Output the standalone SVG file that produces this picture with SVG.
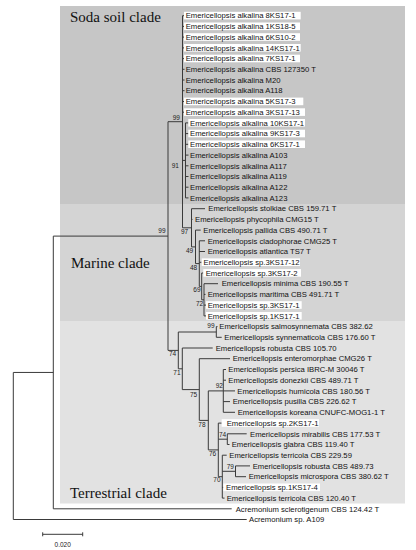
<svg xmlns="http://www.w3.org/2000/svg" width="416" height="550" viewBox="0 0 416 550">
<style>
.br{stroke:#3a3a3a;stroke-width:1;fill:none}
.lf{font-family:"Liberation Sans",Arial,sans-serif;font-size:7.7px;fill:#111}
.bs{font-family:"Liberation Sans",Arial,sans-serif;font-size:6.5px;fill:#222}
.cl{font-family:"Liberation Serif","Times New Roman",serif;font-size:15px;fill:#111}
.hb{fill:#fff}
</style>
<rect width="416" height="550" fill="#fff"/>
<g id="clade-soda"><rect x="60" y="6" width="345" height="198" fill="#c6c6c6"/><text class="cl" x="70" y="21.7">Soda soil clade</text></g>
<g id="clade-marine"><rect x="60" y="204" width="345" height="117" fill="#d4d4d4"/><text class="cl" x="71" y="268.3">Marine clade</text></g>
<g id="clade-terrestrial"><rect x="60" y="321" width="345" height="182.5" fill="#e2e2e2"/><text class="cl" x="70" y="497.7">Terrestrial clade</text></g>

<g id="connectors" class="br">
<!-- root -->
<path d="M13.3,372.45V519.5H246.7M13.3,372.45H53.3"/>
<path d="M53.3,236.1V508.8H231.7M53.3,236.1H168"/>
<path d="M168,121.7V350.4"/>
<!-- soda+marine node -->
<path d="M168,121.7H182.5M182.5,15.7V227.8"/>
<path d="M182.5,15.7h2M182.5,26.4h2M182.5,37.1h2M182.5,47.9h2M182.5,58.6h2M182.5,69.3h2M182.5,80h2M182.5,90.7h2M182.5,101.5h2M182.5,112.2h2"/>
<path d="M182.5,160.4H185.5M185.5,122.9V197.9"/>
<path d="M185.5,122.9h3M185.5,133.6h3M185.5,144.3h3M185.5,155.1h3M185.5,165.8h3M185.5,176.5h3M185.5,187.2h3M185.5,197.9h3"/>
<!-- marine -->
<path d="M182.5,227.8H191.5M191.5,208.7V246.9M191.5,208.7H205M191.5,219.4H192.5"/>
<path d="M191.5,246.9H195.5M195.5,230.1V263.6M195.5,230.1H200.7"/>
<path d="M195.5,263.6H199.3M199.3,240.8V286.4M199.3,240.8H205M199.3,251.5H205M199.3,262.3H201.5"/>
<path d="M199.3,286.4H201.7M201.7,273V299.8M201.7,273H203.3"/>
<path d="M201.7,299.8H204M204,283.7V315.9M204,283.7H218M204,294.4H205.5M204,305.1H206M204,315.9H206"/>
<!-- terrestrial -->
<path d="M168,350.4H178.3M178.3,332V368.8"/>
<path d="M178.3,332H216.3M216.3,326.6V337.3M216.3,326.6H217.5M216.3,337.3H221.7"/>
<path d="M178.3,368.8H182.3M182.3,348V389.6M182.3,348H212.7"/>
<path d="M182.3,389.6H199.3M199.3,358.7V420.4M199.3,358.7H230"/>
<path d="M199.3,420.4H208.3M208.3,390.9V449.9"/>
<path d="M208.3,390.9H223.3M223.3,369.5V412.3M223.3,369.5H226M223.3,380.2H226M223.3,390.9H235M223.3,401.6H230M223.3,412.3H235"/>
<path d="M208.3,449.9H218.3M218.3,423.1V476.7M218.3,423.1H221.7"/>
<path d="M218.3,439.2H227.3M227.3,433.8V444.5M227.3,433.8H246.7M227.3,444.5H229.5"/>
<path d="M218.3,476.7H222.3M222.3,455.2V498.1M222.3,455.2H226.7M222.3,487.4H223.5M222.3,498.1H224.5"/>
<path d="M222.3,471.3H235.5M235.5,465.9V476.7M235.5,465.9H250M235.5,476.7H246"/>
<!-- scale bar -->
<path d="M42.7,534.3H82.7M42.7,532.3V536.3M82.7,532.3V536.3"/>
</g>

<g id="support" class="bs">
<text x="158.3" y="233.3">99</text>
<text x="172.7" y="119.5">99</text>
<text x="171.7" y="167.7">91</text>
<text x="181" y="234">97</text>
<text x="186" y="253.3">49</text>
<text x="190" y="270">48</text>
<text x="193.3" y="292.3">69</text>
<text x="196" y="306.3">72</text>
<text x="169" y="356">74</text>
<text x="207.3" y="328.3">99</text>
<text x="173.3" y="375">71</text>
<text x="190" y="396.7">75</text>
<text x="215.7" y="388.3">92</text>
<text x="198.3" y="426.7">78</text>
<text x="219" y="437.3">74</text>
<text x="209" y="456">76</text>
<text x="226.7" y="469.3">79</text>
<text x="213.3" y="482.3">70</text>
</g>

<g id="leaves" class="lf">
<g id="s1"><rect class="hb" x="184" y="11.8" width="116.7" height="7.6"/><text x="185.7" y="18.4">Emericellopsis alkalina 8KS17-1</text></g>
<g id="s2"><rect class="hb" x="184" y="22.5" width="116" height="7.6"/><text x="185.7" y="29.1">Emericellopsis alkalina 1KS18-5</text></g>
<g id="s3"><rect class="hb" x="184" y="33.2" width="116" height="7.6"/><text x="185.7" y="39.8">Emericellopsis alkalina 6KS10-2</text></g>
<g id="s4"><rect class="hb" x="184" y="44" width="116.7" height="7.6"/><text x="185.7" y="50.6">Emericellopsis alkalina 14KS17-1</text></g>
<g id="s5"><rect class="hb" x="184" y="54.7" width="116" height="7.6"/><text x="185.7" y="61.3">Emericellopsis alkalina 7KS17-1</text></g>
<g id="s6"><text x="185.7" y="72">Emericellopsis alkalina CBS 127350 T</text></g>
<g id="s7"><text x="185.7" y="82.7">Emericellopsis alkalina M20</text></g>
<g id="s8"><text x="185.7" y="93.4">Emericellopsis alkalina A118</text></g>
<g id="s9"><rect class="hb" x="184" y="97.6" width="119.3" height="7.6"/><text x="185.7" y="104.2">Emericellopsis alkalina 5KS17-3</text></g>
<g id="s10"><rect class="hb" x="184" y="108.3" width="121" height="7.6"/><text x="185.7" y="114.9">Emericellopsis alkalina 3KS17-13</text></g>
<g id="s11"><rect class="hb" x="188.3" y="119" width="116.7" height="7.6"/><text x="190" y="125.6">Emericellopsis alkalina 10KS17-1</text></g>
<g id="s12"><rect class="hb" x="188.3" y="129.7" width="116.7" height="7.6"/><text x="190" y="136.3">Emericellopsis alkalina 9KS17-3</text></g>
<g id="s13"><rect class="hb" x="188.3" y="140.4" width="116.7" height="7.6"/><text x="190" y="147">Emericellopsis alkalina 6KS17-1</text></g>
<g id="s14"><text x="190" y="157.8">Emericellopsis alkalina A103</text></g>
<g id="s15"><text x="190" y="168.5">Emericellopsis alkalina A117</text></g>
<g id="s16"><text x="190" y="179.2">Emericellopsis alkalina A119</text></g>
<g id="s17"><text x="190" y="189.9">Emericellopsis alkalina A122</text></g>
<g id="s18"><text x="190" y="200.6">Emericellopsis alkalina A123</text></g>
<g id="m1"><text x="208.3" y="211.4">Emericellopsis stolkiae CBS 159.71 T</text></g>
<g id="m2"><text x="195" y="222.1">Emericellopsis phycophila CMG15 T</text></g>
<g id="m3"><text x="203.3" y="232.8">Emericellopsis pallida CBS 490.71 T</text></g>
<g id="m4"><text x="207.7" y="243.5">Emericellopsis cladophorae CMG25 T</text></g>
<g id="m5"><text x="207.7" y="254.2">Emericellopsis atlantica TS7 T</text></g>
<g id="m6"><rect class="hb" x="201.7" y="258.4" width="98.3" height="7.6"/><text x="203.5" y="265">Emericellopsis sp.3KS17-12</text></g>
<g id="m7"><rect class="hb" x="203.3" y="269.1" width="97.7" height="7.6"/><text x="205.7" y="275.7">Emericellopsis sp.3KS17-2</text></g>
<g id="m8"><text x="221.7" y="286.4">Emericellopsis minima CBS 190.55 T</text></g>
<g id="m9"><text x="207.7" y="297.1">Emericellopsis maritima CBS 491.71 T</text></g>
<g id="m10"><rect class="hb" x="206" y="301.2" width="95.7" height="7.6"/><text x="207.7" y="307.8">Emericellopsis sp.3KS17-1</text></g>
<g id="m11"><rect class="hb" x="206" y="312" width="95.7" height="7.6"/><text x="207.7" y="318.6">Emericellopsis sp.1KS17-1</text></g>
<g id="t1"><text x="219.3" y="329.3">Emericellopsis salmosynnemata CBS 382.62</text></g>
<g id="t2"><text x="224.3" y="340">Emericellopsis synnematicola CBS 176.60 T</text></g>
<g id="t3"><text x="215.7" y="350.7">Emericellopsis robusta CBS 105.70</text></g>
<g id="t4"><text x="232.7" y="361.4">Emericellopsis enteromorphae CMG26 T</text></g>
<g id="t5"><text x="228.3" y="372.2">Emericellopsis persica IBRC-M 30046 T</text></g>
<g id="t6"><text x="228.3" y="382.9">Emericellopsis donezkii CBS 489.71 T</text></g>
<g id="t7"><text x="237.3" y="393.6">Emericellopsis humicola CBS 180.56 T</text></g>
<g id="t8"><text x="232.7" y="404.3">Emericellopsis pusilla CBS 226.62 T</text></g>
<g id="t9"><text x="237.7" y="415">Emericellopsis koreana CNUFC-MOG1-1 T</text></g>
<g id="t10"><rect class="hb" x="221.7" y="419.2" width="97.3" height="7.6"/><text x="226.7" y="425.8">Emericellopsis sp.2KS17-1</text></g>
<g id="t11"><text x="250" y="436.5">Emericellopsis mirabilis CBS 177.53 T</text></g>
<g id="t12"><text x="231.7" y="447.2">Emericellopsis glabra CBS 119.40 T</text></g>
<g id="t13"><text x="229.3" y="457.9">Emericellopsis terricola CBS 229.59</text></g>
<g id="t14"><text x="252.7" y="468.6">Emericellopsis robusta CBS 489.73</text></g>
<g id="t15"><text x="248.7" y="479.4">Emericellopsis microspora CBS 380.62 T</text></g>
<g id="t16"><rect class="hb" x="223.3" y="483.5" width="96.7" height="7.6"/><text x="226" y="490.1">Emericellopsis sp.1KS17-4</text></g>
<g id="t17"><text x="226.7" y="500.8">Emericellopsis terricola CBS 120.40 T</text></g>
<g id="o1"><text x="235.7" y="511.5">Acremonium sclerotigenum CBS 124.42 T</text></g>
<g id="o2"><text x="249" y="522.2">Acremonium sp. A109</text></g>
</g>
<g id="scale"><text class="bs" x="62.7" y="547" text-anchor="middle">0.020</text></g>
</svg>
